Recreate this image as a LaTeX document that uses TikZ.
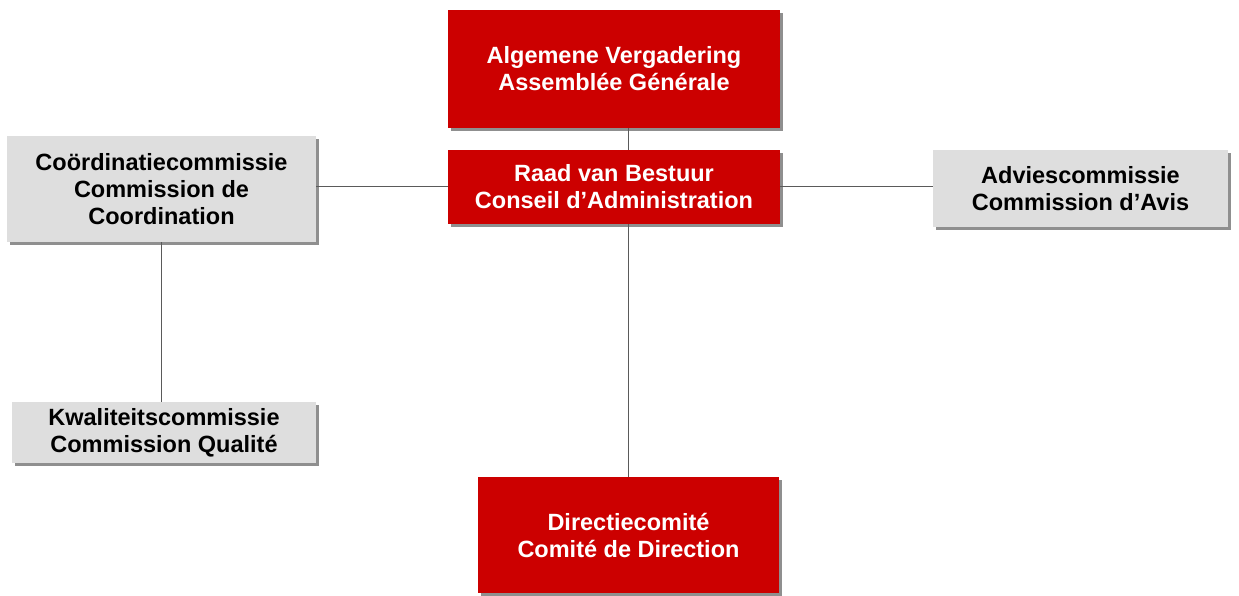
\documentclass[tikz,border=0pt]{standalone}
\usepackage{fontspec}
\setmainfont{Liberation Sans}
\usetikzlibrary{shadows}
\definecolor{boardred}{RGB}{204,0,0}
\definecolor{boxgrey}{RGB}{222,222,222}
\definecolor{linegrey}{RGB}{90,90,90}
\begin{document}
\begin{tikzpicture}[
      x=1pt, y=-1pt,
      box/.style={rectangle, inner sep=0pt, align=center,
                  font=\fontsize{23.5}{27}\selectfont\bfseries,
                  drop shadow={shadow xshift=3pt, shadow yshift=-3pt,
                               fill=black!55, opacity=0.8}},
      redbox/.style={box, fill=boardred, text=white},
      greybox/.style={box, fill=boxgrey, text=black},
      link/.style={draw=linegrey, line width=1pt}
    ]
    \useasboundingbox[fill=white] (0,0) rectangle (1239,596);

    \node[redbox, minimum width=332pt, minimum height=118pt] (av) at (614,69)
      {Algemene Vergadering\\Assemblée Générale};
    \node[redbox, minimum width=332pt, minimum height=74pt] (rvb) at (614,187)
      {Raad van Bestuur\\Conseil d’Administration};
    \node[greybox, minimum width=309pt, minimum height=106pt] (coord) at (161.5,189)
      {Coördinatiecommissie\\Commission de\\Coordination};
    \node[greybox, minimum width=295pt, minimum height=77pt] (advies) at (1080.5,188.5)
      {Adviescommissie\\Commission d’Avis};
    \node[greybox, minimum width=304pt, minimum height=61pt] (kwal) at (164,432.5)
      {Kwaliteitscommissie\\Commission Qualité};
    \node[redbox, minimum width=301pt, minimum height=116pt] (dir) at (628.5,535)
      {Directiecomité\\Comité de Direction};

    \draw[link] (av.south -| dir.north) -- (rvb.north -| dir.north);
    \draw[link] (rvb.south -| dir.north) -- (dir.north);
    \draw[link] (rvb.west) -- (rvb.west -| coord.east);
    \draw[link] (rvb.east) -- (rvb.east -| advies.west);
    \draw[link] (coord.south) -- (coord.south |- kwal.north);
  \end{tikzpicture}
\end{document}
